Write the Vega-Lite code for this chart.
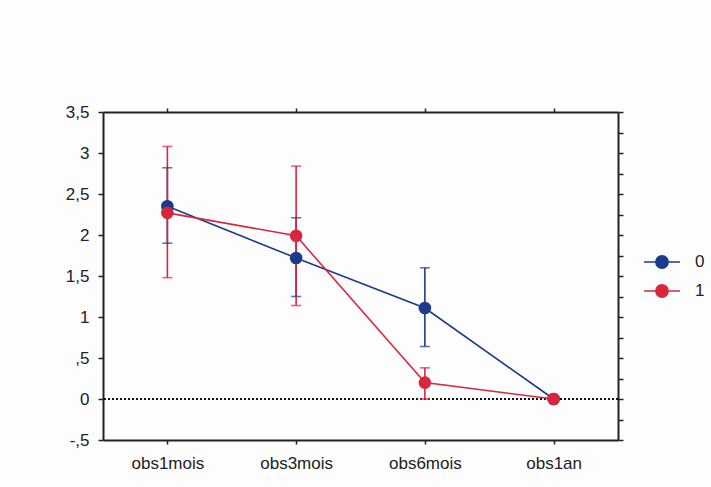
{
  "$schema": "https://vega.github.io/schema/vega-lite/v6.json",
  "autosize": "none",
  "width": 515,
  "height": 328,
  "padding": {"left": 103, "top": 112, "right": 93, "bottom": 47},
  "background": "#fdfdfe",
  "config": {
    "view": {"stroke": null},
    "font": "Liberation Sans",
    "axis": {"domainColor": "#222", "domainWidth": 2, "tickColor": "#222", "tickWidth": 1.5, "labelColor": "#222", "grid": false, "title": null, "labelFont": "Liberation Sans"}
  },
  "datasets": {
    "obs": [
      {"temps": "obs1mois", "groupe": "0", "moyenne": 2.35, "bas": 1.90, "haut": 2.82},
      {"temps": "obs3mois", "groupe": "0", "moyenne": 1.72, "bas": 1.25, "haut": 2.21},
      {"temps": "obs6mois", "groupe": "0", "moyenne": 1.11, "bas": 0.64, "haut": 1.60},
      {"temps": "obs1an", "groupe": "0", "moyenne": 0, "bas": null, "haut": null},
      {"temps": "obs1mois", "groupe": "1", "moyenne": 2.27, "bas": 1.48, "haut": 3.08},
      {"temps": "obs3mois", "groupe": "1", "moyenne": 1.99, "bas": 1.14, "haut": 2.84},
      {"temps": "obs6mois", "groupe": "1", "moyenne": 0.20, "bas": 0.0, "haut": 0.38},
      {"temps": "obs1an", "groupe": "1", "moyenne": 0, "bas": null, "haut": null}
    ]
  },
  "layer": [
    {
      "data": {"name": "obs"},
      "encoding": {
        "x": {"field": "temps", "type": "nominal", "sort": ["obs1mois", "obs3mois", "obs6mois", "obs1an"], "scale": {"type": "point", "padding": 0.5},
              "axis": {"orient": "top", "labels": false, "tickSize": 4, "domainWidth": 2}},
        "y": {"datum": 0, "type": "quantitative", "scale": {"domain": [-0.5, 3.5], "nice": false, "zero": false},
              "axis": {"orient": "right", "labels": false, "tickSize": 5, "values": [-0.5, -0.25, 0, 0.25, 0.5, 0.75, 1, 1.25, 1.5, 1.75, 2, 2.25, 2.5, 2.75, 3, 3.25, 3.5]}}
      },
      "layer": [
        {"mark": {"type": "point", "opacity": 0}},
        {"mark": {"type": "rule", "strokeDash": [2, 2], "strokeWidth": 1.6, "color": "#111"}, "encoding": {"x": null}}
      ]
    },
    {
      "data": {"name": "obs"},
      "encoding": {
        "x": {"field": "temps", "type": "nominal", "sort": ["obs1mois", "obs3mois", "obs6mois", "obs1an"], "scale": {"type": "point", "padding": 0.5},
              "axis": {"orient": "bottom", "labelAngle": 0, "tickSize": 4, "labelFontSize": 17, "labelPadding": 11}},
        "color": {"field": "groupe", "type": "nominal", "scale": {"domain": ["0", "1"], "range": ["#1d3b8a", "#d8263e"]},
                  "legend": {"title": null, "orient": "none", "legendX": 540, "legendY": 131, "padding": 0,
                             "symbolType": "M-1,0L1,0M-0.34,0A0.34,0.34,0,1,1,0.34,0A0.34,0.34,0,1,1,-0.34,0Z",
                             "symbolSize": 1296, "symbolStrokeWidth": 1.6, "labelFontSize": 17, "labelColor": "#222", "labelOffset": 14, "rowPadding": 0,
                             "encode": {"symbols": {"update": {"fill": {"scale": "color", "field": "value"}, "stroke": {"scale": "color", "field": "value"}, "opacity": {"value": 1}, "fillOpacity": {"value": 1}}}}}}
      },
      "layer": [
        {"transform": [{"filter": "datum.bas != null"}], "mark": {"type": "rule", "strokeWidth": 1.6},
         "encoding": {"y": {"field": "bas", "type": "quantitative"}, "y2": {"field": "haut"}}},
        {"transform": [{"filter": "datum.bas != null"}], "mark": {"type": "tick", "orient": "horizontal", "size": 10, "thickness": 1.6},
         "encoding": {"y": {"field": "bas", "type": "quantitative"}}},
        {"transform": [{"filter": "datum.bas != null"}], "mark": {"type": "tick", "orient": "horizontal", "size": 10, "thickness": 1.6},
         "encoding": {"y": {"field": "haut", "type": "quantitative"}}},
        {"mark": {"type": "line", "strokeWidth": 1.6},
         "encoding": {"y": {"field": "moyenne", "type": "quantitative"}}},
        {"mark": {"type": "point", "filled": true, "size": 160, "opacity": 1},
         "encoding": {"y": {"field": "moyenne", "type": "quantitative",
           "scale": {"domain": [-0.5, 3.5], "nice": false, "zero": false},
           "axis": {"orient": "left", "tickSize": 5, "labelFontSize": 17, "labelPadding": 9,
                    "values": [-0.5, -0.25, 0, 0.25, 0.5, 0.75, 1, 1.25, 1.5, 1.75, 2, 2.25, 2.5, 2.75, 3, 3.25, 3.5],
                    "labelExpr": "datum.value * 2 == round(datum.value * 2) ? replace(replace(replace(format(datum.value, '.1~f'), '\u2212', '-'), '.', ','), '0,', ',') : ''"}}}}
      ]
    }
  ],
  "resolve": {"scale": {"x": "independent", "y": "independent"}}
}
